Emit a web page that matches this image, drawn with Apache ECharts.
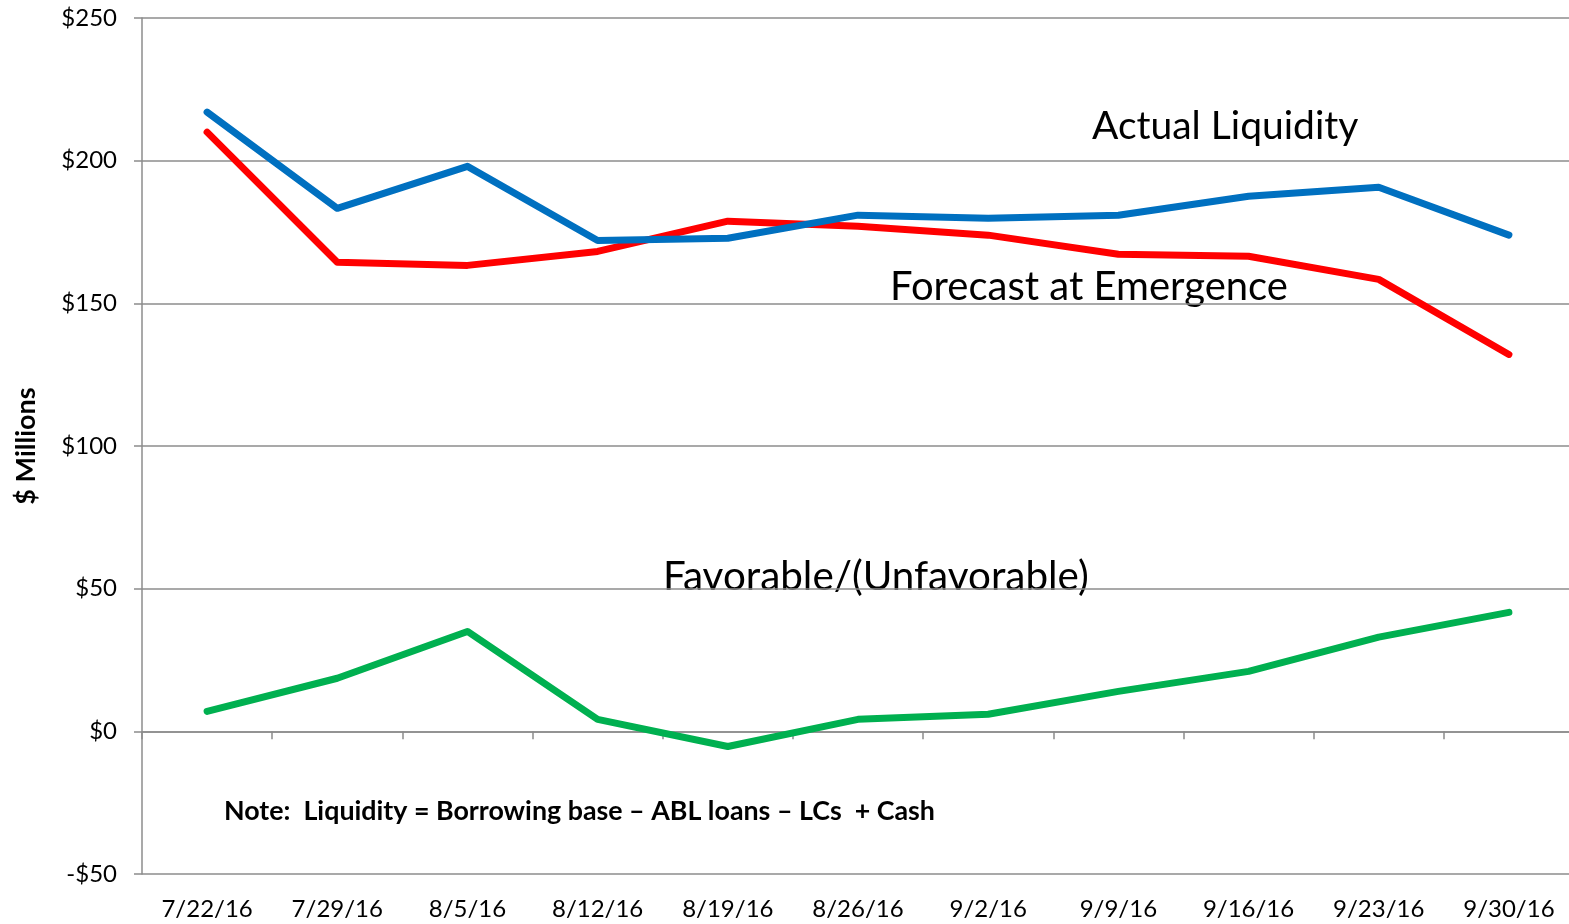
<!DOCTYPE html>
<html>
<head>
<meta charset="utf-8">
<script src="https://cdn.jsdelivr.net/npm/echarts@6/dist/echarts.min.js"></script>
<style>
  html, body { margin: 0; padding: 0; background: #fff; }
  #main { width: 1569px; height: 924px; }
</style>
</head>
<body>
<div id="main"></div>
<script>
// weekly dates
var dates = ['7/22/16', '7/29/16', '8/5/16', '8/12/16', '8/19/16', '8/26/16', '9/2/16', '9/9/16', '9/16/16', '9/23/16', '9/30/16'];
// $ millions
var actual = [217, 183.3, 198, 172, 172.8, 180.9, 179.8, 180.9, 187.5, 190.7, 173.9];
var forecast = [210, 164.4, 163.3, 168.2, 178.8, 177, 173.9, 167.2, 166.5, 158.4, 132.1];
var variance = [7, 18.6, 35, 4.2, -5.3, 4.2, 6, 14, 21, 33, 41.7];

var FONT = 'Lato, "Open Sans", sans-serif';
var GRAY = '#8c8c8c';

var myChart = echarts.init(document.getElementById('main'));

var option = {
  backgroundColor: '#fff',
  animation: false,
  grid: { left: 142, top: 18, bottom: 50, width: 1432, outerBoundsMode: 'none' },
  xAxis: [
    { // labels at the bottom
      type: 'category',
      data: dates,
      position: 'bottom',
      boundaryGap: true,
      axisLine: { show: false, onZero: false },
      axisTick: { show: false },
      axisLabel: { fontFamily: FONT, fontSize: 24, color: '#000', margin: 23 }
    },
    { // line + ticks crossing at $0
      type: 'category',
      data: dates,
      position: 'top',
      boundaryGap: true,
      axisLine: { show: true, onZero: true, lineStyle: { color: GRAY, width: 1.5 } },
      axisTick: { show: true, inside: true, length: 8, lineStyle: { color: GRAY, width: 1.5 } },
      axisLabel: { show: false }
    }
  ],
  yAxis: {
    type: 'value',
    min: -50,
    max: 250,
    interval: 50,
    name: '$ Millions',
    nameLocation: 'middle',
    nameGap: 102,
    nameTextStyle: { fontFamily: FONT, fontSize: 27, fontWeight: 'bold', color: '#000' },
    axisLine: { show: true, lineStyle: { color: GRAY, width: 1.5 } },
    axisTick: { show: true, length: 8, lineStyle: { color: GRAY, width: 1.5 } },
    axisLabel: {
      fontFamily: FONT, fontSize: 24, color: '#000', margin: 25,
      formatter: function (v) { return v < 0 ? '-$' + (-v) : '$' + v; }
    },
    splitLine: { show: true, lineStyle: { color: GRAY, width: 1.5 } }
  },
  series: [
    {
      name: 'Actual Liquidity', type: 'line', data: actual, symbol: 'none',
      lineStyle: { color: '#0070C0', width: 7, cap: 'round', join: 'round' }, z: 3
    },
    {
      name: 'Forecast at Emergence', type: 'line', data: forecast, symbol: 'none',
      lineStyle: { color: '#FF0000', width: 7, cap: 'round', join: 'round' }, z: 2
    },
    {
      name: 'Favorable/(Unfavorable)', type: 'line', data: variance, symbol: 'none',
      lineStyle: { color: '#00B050', width: 7, cap: 'round', join: 'round' }, z: 2
    }
  ],
  graphic: [
    { type: 'text', x: 1092, y: 126, style: { text: 'Actual Liquidity', font: '39px ' + FONT, fill: '#000', verticalAlign: 'middle' } },
    { type: 'text', x: 890, y: 287, style: { text: 'Forecast at Emergence', font: '40px ' + FONT, fill: '#000', verticalAlign: 'middle' } },
    { type: 'text', x: 663, y: 577, style: { text: 'Favorable/(Unfavorable)', font: '40.4px ' + FONT, fill: '#000', verticalAlign: 'middle' } },
    { type: 'text', x: 224, y: 811, style: { text: 'Note:  Liquidity = Borrowing base \u2013 ABL loans \u2013 LCs  + Cash', font: 'bold 26.8px ' + FONT, fill: '#000', verticalAlign: 'middle' } }
  ]
};

myChart.setOption(option);
</script>
</body>
</html>
